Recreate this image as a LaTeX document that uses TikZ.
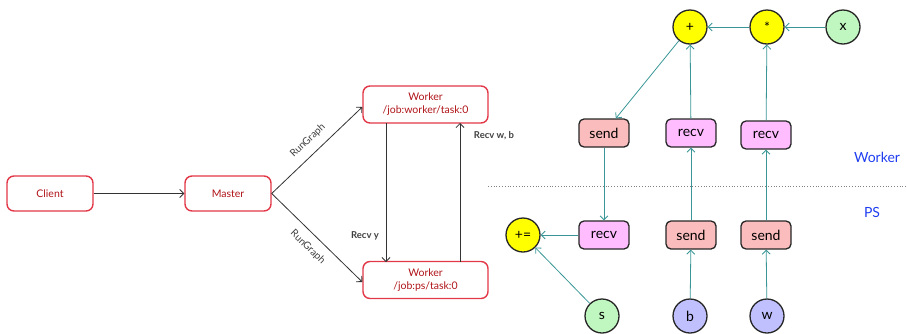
\documentclass[tikz,border=0pt]{standalone}
\usepackage{fontspec}
\setmainfont{Lato}
\usetikzlibrary{arrows.meta}
\definecolor{boxred}{RGB}{226,56,72}
\definecolor{txtred}{RGB}{176,20,24}
\definecolor{teal1}{RGB}{58,150,150}
\definecolor{nodeyellow}{RGB}{255,255,0}
\definecolor{nodegreen}{RGB}{192,246,192}
\definecolor{nodeblue}{RGB}{192,192,255}
\definecolor{sendpink}{RGB}{250,188,188}
\definecolor{recvpink}{RGB}{255,188,255}
\definecolor{psblue}{RGB}{30,60,240}
\tikzset{
  procbox/.style={draw=boxred, line width=1.4pt, rounded corners=7pt, fill=white,
    minimum width=86pt, minimum height=35pt, text=txtred, align=center,
    font=\fontsize{10.5}{13}\selectfont},
  opcircle/.style={circle, draw=black!85, line width=1.3pt, minimum size=34pt,
    inner sep=0pt, font=\fontsize{14}{16}\selectfont},
  opbox/.style={draw=black!85, line width=1.3pt, rounded corners=5pt,
    minimum width=50pt, minimum height=28pt, inner sep=0pt,
    font=\fontsize{14}{16}\selectfont},
  ctrl/.style={draw=black!80, line width=0.8pt, -{Straight Barb[length=4pt,width=8pt]}},
  flow/.style={draw=teal1, line width=0.8pt, -{Straight Barb[length=4pt,width=8pt]}},
  edgelbl/.style={font=\fontsize{10}{12}\selectfont, text=black!75},
  boldlbl/.style={font=\bfseries\fontsize{9.5}{11}\selectfont, text=black!75},
}
\begin{document}
\begin{tikzpicture}[x=1pt, y=-1pt]
\useasboundingbox (0,0) rectangle (907,333);

% processes
\node[procbox] (client) at (50,193.5) {Client};
\node[procbox] (master) at (228,193.5) {Master};
\node[procbox, minimum width=125pt, minimum height=37pt] (wk) at (425.5,104.5) {Worker\\/job:worker/task:0};
\node[procbox, minimum width=125pt, minimum height=37pt] (ps) at (425.5,280) {Worker\\/job:ps/task:0};

\draw[ctrl] (client) -- (master);
\draw[ctrl] (master.east) -- (wk.south west |- 0,107) node[midway, above=5pt, sloped, edgelbl] {RunGraph};
\draw[ctrl] (master.east) -- (wk.south west |- 0,282) node[midway, below=5pt, sloped, edgelbl] {RunGraph};
\coordinate (ya) at (386,123);
\coordinate (yb) at (386,262);
\draw[ctrl] (ya) -- (yb);
\coordinate (wa) at (460,262);
\coordinate (wb) at (460,123);
\draw[ctrl] (wa) -- (wb);
\node[boldlbl] (ry) at (365,236) {Recv y};
\node[boldlbl] (rwb) at (494,136) {Recv w, b};

% partition
\draw[gray, dotted, line width=0.8pt] (488,186) -- (907,186);
\node[text=psblue, font=\fontsize{14}{16}\selectfont] (lw) at (877,157) {Worker};
\node[text=psblue, font=\fontsize{14}{16}\selectfont] (lp) at (872,212) {PS};

% worker graph
\node[opcircle, fill=nodeyellow] (add) at (690,27) {+};
\node[opcircle, fill=nodeyellow] (mul) at (767,27) {*};
\node[opcircle, fill=nodegreen] (x) at (843,27) {x};
\node[opbox, fill=sendpink] (sw) at (604,133) {send};
\node[opbox, fill=recvpink] (rw1) at (691,133) {recv};
\node[opbox, fill=recvpink] (rw2) at (766,135) {recv};

% ps graph
\node[opcircle, fill=nodeyellow] (acc) at (523,235) {+=};
\node[opbox, fill=recvpink] (rp) at (604,235) {recv};
\node[opbox, fill=sendpink] (sp1) at (691,235) {send};
\node[opbox, fill=sendpink] (sp2) at (766,235) {send};
\node[opcircle, fill=nodegreen] (s) at (602,316) {s};
\node[opcircle, fill=nodeblue] (b) at (690,316) {b};
\node[opcircle, fill=nodeblue] (w) at (767,316) {w};

\draw[flow] (x) -- (mul);
\draw[flow] (mul) -- (add);
\draw[flow] (add) -- (sw);
\draw[flow] (rw1) -- (add);
\draw[flow] (rw2) -- (mul);
\draw[flow] (sw) -- (rp);
\draw[flow] (sp1) -- (rw1);
\draw[flow] (sp2) -- (rw2);
\draw[flow] (rp) -- (acc);
\draw[flow] (s) -- (acc);
\draw[flow] (b) -- (sp1);
\draw[flow] (w) -- (sp2);
\end{tikzpicture}
\end{document}
